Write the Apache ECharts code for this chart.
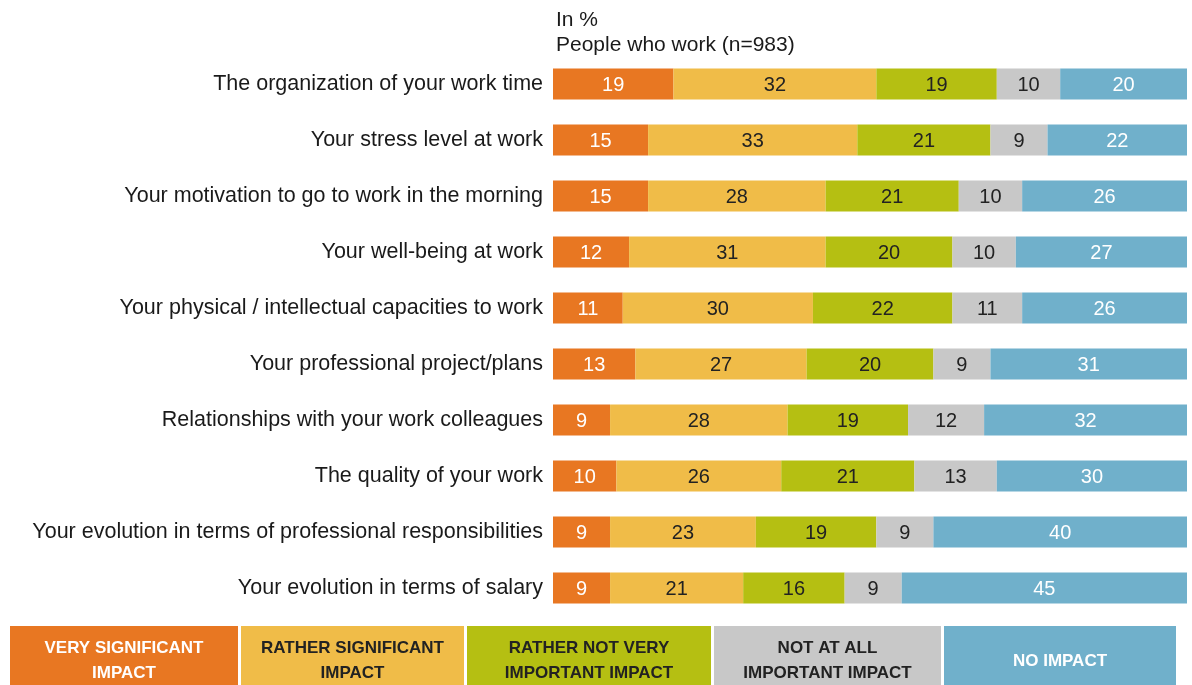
<!DOCTYPE html>
<html><head><meta charset="utf-8">
<script src="https://cdn.jsdelivr.net/npm/echarts@6/dist/echarts.min.js"></script>
<style>html,body{margin:0;padding:0;background:#fff}#c{width:1192px;height:685px}</style>
</head><body><div id="c"></div>
<script>
const categories = [
  "The organization of your work time",
  "Your stress level at work",
  "Your motivation to go to work in the morning",
  "Your well-being at work",
  "Your physical / intellectual capacities to work",
  "Your professional project/plans",
  "Relationships with your work colleagues",
  "The quality of your work",
  "Your evolution in terms of professional responsibilities",
  "Your evolution in terms of salary"
];
const seriesNames = ["VERY SIGNIFICANT\nIMPACT","RATHER SIGNIFICANT\nIMPACT","RATHER NOT VERY\nIMPORTANT IMPACT","NOT AT ALL\nIMPORTANT IMPACT","NO IMPACT"];
const verySignificant = [19,15,15,12,11,13,9,10,9,9];
const ratherSignificant = [32,33,28,31,30,27,28,26,23,21];
const ratherNotVery = [19,21,21,20,22,20,19,21,19,16];
const notAtAll = [10,9,10,10,11,9,12,13,9,9];
const noImpact = [20,22,26,27,26,31,32,30,40,45];
const colors = ["#E87722","#F0BC48","#B5BF12","#C8C8C8","#70B0CB"];
const labelColors = ["#fff","#222","#222","#222","#fff"];
const values = [verySignificant, ratherSignificant, ratherNotVery, notAtAll, noImpact];

const chart = echarts.init(document.getElementById('c'));
const font = "'Liberation Sans', Arial, sans-serif";

const series = values.map((v,i)=>({
  name: seriesNames[i], type:'bar', stack:'s', data:v, barWidth:31,
  itemStyle:{color:colors[i]},
  label:{show:true, position:'inside', color:labelColors[i], fontSize:20, fontFamily:font, offset:[0,1]}
}));

const legendBoxes = [[10,238],[241,464],[467,711],[714,941],[944,1176]];
const graphic = [
  {type:'text', left:556, top:10, style:{text:'In %', fontSize:21, fontFamily:font, fill:'#1a1a1a'}},
  {type:'text', left:556, top:35, style:{text:'People who work (n=983)', fontSize:21, fontFamily:font, fill:'#1a1a1a'}}
];
legendBoxes.forEach((b,i)=>{
  graphic.push({type:'rect', shape:{x:b[0], y:626, width:b[1]-b[0], height:70}, style:{fill:colors[i]}});
  graphic.push({type:'text', x:(b[0]+b[1])/2, y:661, style:{text:seriesNames[i], fontSize:17, fontWeight:'bold', fontFamily:font, fill:labelColors[i], align:'center', verticalAlign:'middle', lineHeight:25}});
});

chart.setOption({
  animation:false,
  grid:{left:553, right:5, top:56, height:560},
  xAxis:{type:'value', min:0, max:100, show:false},
  yAxis:{type:'category', data:categories, inverse:true,
    axisLine:{show:false}, axisTick:{show:false},
    axisLabel:{fontSize:21.5, color:'#1a1a1a', fontFamily:font, margin:10, padding:[3,0,0,0]}},
  series: series,
  graphic: graphic
});
</script></body></html>
